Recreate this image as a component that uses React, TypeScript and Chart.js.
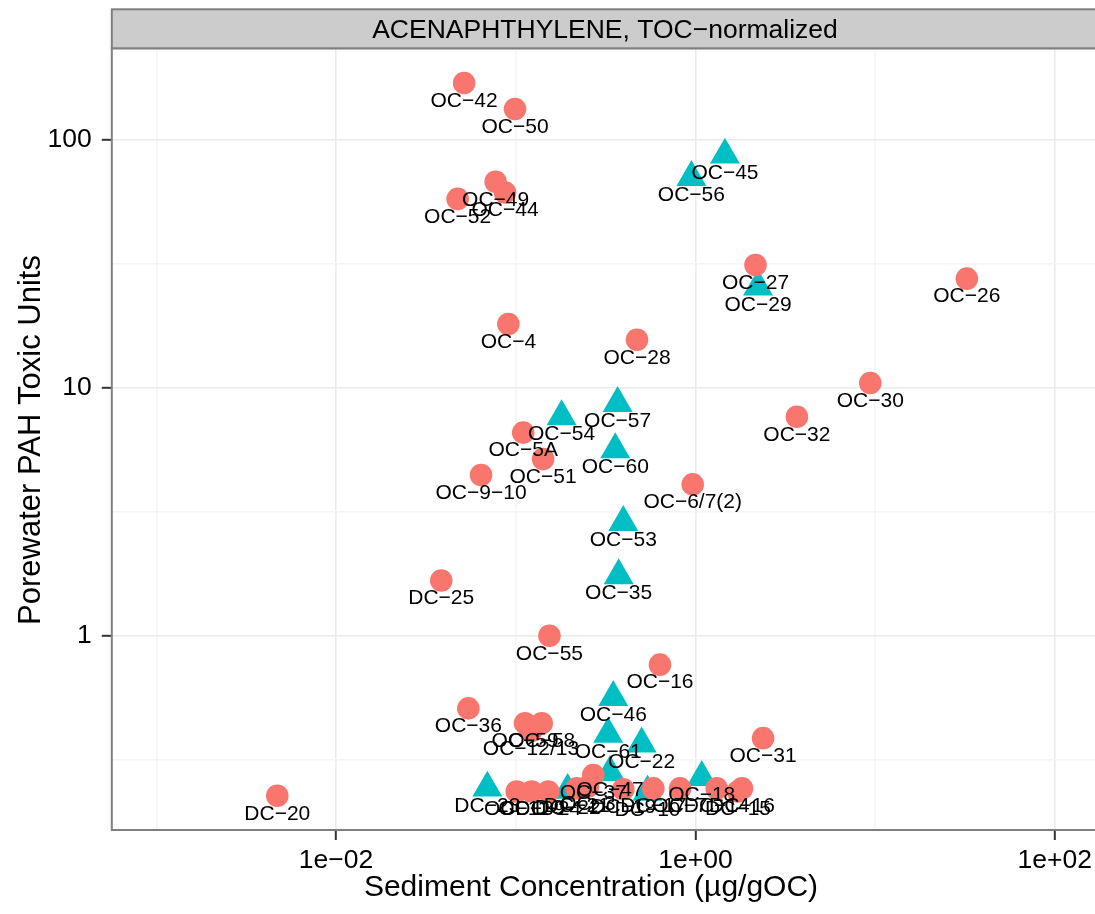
import React, { useEffect, useRef } from "react";
import { Chart, registerables } from "chart.js";

Chart.register(...registerables);

// ---- Data ----
const circleNames = [
  "OC−42", "OC−50", "OC−49", "OC−44", "OC−52", "OC−27", "OC−26", "OC−4",
  "OC−28", "OC−5A", "OC−51", "OC−9−10", "OC−6/7(2)", "DC−25", "OC−55", "OC−16",
  "OC−30", "OC−32", "OC−31", "OC−36", "OC−59", "OC−58", "OC−12/13", "DC−20",
  "OC−11", "OC−39", "DC−24", "DC−21", "OC−3", "OC−37", "DC−19", "DC−17",
  "OC−7", "DC−14", "DC−16", "DC−15",
];
const circleX = [
  0.0516, 0.0991, 0.0773, 0.0872, 0.0475, 2.16, 32.4, 0.091,
  0.473, 0.110, 0.142, 0.0641, 0.966, 0.0385, 0.154, 0.635,
  9.4, 3.67, 2.38, 0.0545, 0.1127, 0.1395, 0.1216, 0.00471,
  0.1013, 0.1227, 0.1517, 0.2186, 0.2525, 0.2703, 0.397, 0.5832,
  0.821, 1.314, 1.816, 1.726,
];
const circleY = [
  170, 133.5, 67.9, 61.5, 57.9, 31.3, 27.6, 18.1,
  15.65, 6.6, 5.16, 4.45, 4.08, 1.67, 1.0, 0.764,
  10.47, 7.65, 0.386, 0.509, 0.443, 0.443, 0.412, 0.226,
  0.235, 0.235, 0.235, 0.242, 0.246, 0.274, 0.24, 0.242,
  0.242, 0.242, 0.242, 0.235,
];

const triangleNames = [
  "OC−45", "OC−56", "OC−29", "OC−57", "OC−54", "OC−60", "OC−53", "OC−35",
  "OC−46", "OC−61", "OC−22", "DC−23", "DC−22", "OC−47", "DC−10", "OC−18",
];
const triangleX = [
  1.46, 0.95, 2.23, 0.369, 0.18, 0.358, 0.397, 0.374,
  0.349, 0.327, 0.502, 0.0695, 0.1945, 0.3347, 0.5414, 1.084,
];
const triangleY = [
  87.1, 70.8, 25.6, 8.67, 7.66, 5.64, 2.87, 1.748,
  0.564, 0.401, 0.366, 0.243, 0.238, 0.281, 0.234, 0.268,
];

const xMajorTicks = [1e-2, 1, 1e2];
const xTickLabels = ["1e−02", "1e+00", "1e+02"];
const xMinorTicks = [1e-3, 1e-1, 1e1];
const yMajorTicks = [1, 10, 100];
const yTickLabels = ["1", "10", "100"];
const yMinorTicks = [0.3162, 3.162, 31.62];

const xLimits = [5.65e-4, 167.4];
const yLimits = [0.1644, 234.7];

const stripText = "ACENAPHTHYLENE, TOC−normalized";
const xTitle = "Sediment Concentration (µg/gOC)";
const yTitle = "Porewater PAH Toxic Units";

const FONT = "'Liberation Sans', Arial, Helvetica, sans-serif";
const RED = "#F8766D";
const TEAL = "#00BFC4";

const near = (a: number, b: number) => Math.abs(Math.log10(a) - Math.log10(b)) < 1e-6;
const isMajor = (list: number[], v: number) => list.some((t) => near(t, v));

const overlayPlugin = {
  id: "ggOverlay",
  afterDatasetsDraw(chart: any) {
    const { ctx, chartArea } = chart;
    const xs = chart.scales.x;
    const ys = chart.scales.y;
    // point labels
    ctx.save();
    ctx.beginPath();
    ctx.rect(chartArea.left, chartArea.top, chartArea.right - chartArea.left, chartArea.bottom - chartArea.top);
    ctx.clip();
    ctx.fillStyle = "#000";
    ctx.font = `21px ${FONT}`;
    ctx.textAlign = "center";
    ctx.textBaseline = "middle";
    const drawSet = (names: string[], xv: number[], yv: number[]) => {
      names.forEach((n, i) => {
        const px = xs.getPixelForValue(xv[i]);
        const py = ys.getPixelForValue(yv[i]);
        ctx.fillText(n, px, py + 18);
      });
    };
    drawSet(circleNames, circleX, circleY);
    drawSet(triangleNames, triangleX, triangleY);
    ctx.restore();

    // panel border
    ctx.save();
    ctx.strokeStyle = "#7F7F7F";
    ctx.lineWidth = 2;
    ctx.strokeRect(chartArea.left, chartArea.top, chartArea.right + 4 - chartArea.left, chartArea.bottom - chartArea.top);
    // strip
    const stripTop = 9.3;
    ctx.fillStyle = "#CCCCCC";
    ctx.fillRect(chartArea.left, stripTop, chartArea.right + 4 - chartArea.left, chartArea.top - stripTop);
    ctx.strokeRect(chartArea.left, stripTop, chartArea.right + 4 - chartArea.left, chartArea.top - stripTop);
    ctx.fillStyle = "#000";
    ctx.font = `26.5px ${FONT}`;
    ctx.textAlign = "center";
    ctx.textBaseline = "alphabetic";
    ctx.fillText(stripText, 605, 38);
    // axis titles
    ctx.font = `30px ${FONT}`;
    ctx.fillText(xTitle, 591, 896);
    ctx.font = `31px ${FONT}`;
    ctx.translate(40, 440);
    ctx.rotate(-Math.PI / 2);
    ctx.fillText(yTitle, 0, 0);
    ctx.restore();
  },
};

export default function App() {
  const ref = useRef<HTMLCanvasElement>(null);
  useEffect(() => {
    if (!ref.current) return;
    document.body.style.margin = "0";
    document.body.style.overflow = "hidden";
    const xTicks = [...xMinorTicks, ...xMajorTicks].sort((a, b) => a - b);
    const yTicks = [...yMinorTicks, ...yMajorTicks].sort((a, b) => a - b);
    const chart = new Chart(ref.current, {
      type: "scatter",
      data: {
        datasets: [
          {
            label: "circles",
            data: circleX.map((x, i) => ({ x, y: circleY[i] })),
            backgroundColor: RED,
            borderWidth: 0,
            pointStyle: "circle",
            pointRadius: 11.3,
            pointHoverRadius: 11.3,
          },
          {
            label: "triangles",
            data: triangleX.map((x, i) => ({ x, y: triangleY[i] })),
            backgroundColor: TEAL,
            borderWidth: 0,
            pointStyle: "triangle",
            pointRadius: 17.3,
            pointHoverRadius: 17.3,
          },
        ],
      },
      options: {
        animation: false,
        responsive: false,
        events: [],
        layout: { autoPadding: false, padding: { top: 48.3, right: 0, left: 0, bottom: 0 } },
        plugins: { legend: { display: false }, tooltip: { enabled: false }, title: { display: false } },
        scales: {
          x: {
            type: "logarithmic",
            min: xLimits[0],
            max: xLimits[1],
            afterBuildTicks: (scale: any) => {
              scale.ticks = xTicks.map((v) => ({ value: v }));
            },
            afterFit: (scale: any) => {
              scale.height = 84;
              scale.paddingLeft = 0;
              scale.paddingRight = 0;
            },
            border: { display: false },
            grid: {
              color: (c: any) => (c.tick && isMajor(xMajorTicks, c.tick.value) ? "#EBEBEB" : "#F5F5F5"),
              lineWidth: 1.6,
              tickColor: (c: any) => (c.tick && isMajor(xMajorTicks, c.tick.value) ? "#333333" : "rgba(0,0,0,0)"),
              tickWidth: 2,
              tickLength: 10,
              drawTicks: true,
            },
            ticks: {
              autoSkip: false,
              maxRotation: 0,
              padding: 5,
              color: "#000",
              font: { family: FONT, size: 26.5 },
              callback: (v: any) => {
                const idx = xMajorTicks.findIndex((t) => near(t, Number(v)));
                return idx >= 0 ? xTickLabels[idx] : "";
              },
            },
          },
          y: {
            type: "logarithmic",
            min: yLimits[0],
            max: yLimits[1],
            afterBuildTicks: (scale: any) => {
              scale.ticks = yTicks.map((v) => ({ value: v }));
            },
            afterFit: (scale: any) => {
              scale.width = 111.8;
              scale.paddingTop = 0;
              scale.paddingBottom = 0;
            },
            border: { display: false },
            grid: {
              color: (c: any) => (c.tick && isMajor(yMajorTicks, c.tick.value) ? "#EBEBEB" : "#F5F5F5"),
              lineWidth: 1.6,
              tickColor: (c: any) => (c.tick && isMajor(yMajorTicks, c.tick.value) ? "#333333" : "rgba(0,0,0,0)"),
              tickWidth: 2,
              tickLength: 10,
              drawTicks: true,
            },
            ticks: {
              autoSkip: false,
              padding: 10,
              color: "#000",
              font: { family: FONT, size: 26.5 },
              callback: (v: any) => {
                const idx = yMajorTicks.findIndex((t) => near(t, Number(v)));
                return idx >= 0 ? yTickLabels[idx] : "";
              },
            },
          },
        },
      },
      plugins: [overlayPlugin],
    });
    return () => chart.destroy();
  }, []);
  return (
    <div style={{ position: "absolute", left: 0, top: 0, width: 1095, height: 914, background: "#fff", overflow: "hidden" }}>
      <canvas ref={ref} width={1095} height={914} style={{ width: 1095, height: 914, display: "block" }} />
    </div>
  );
}
